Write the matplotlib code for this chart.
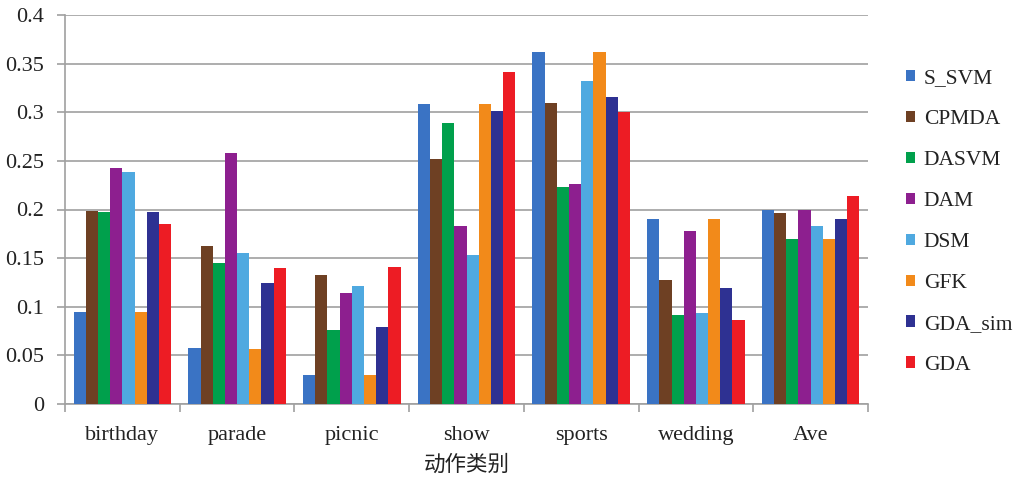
import numpy as np
import matplotlib
matplotlib.use("Agg")
import matplotlib.pyplot as plt
from matplotlib.ticker import FixedLocator, NullFormatter

categories = ["birthday", "parade", "picnic", "show", "sports", "wedding", "Ave"]
methods = ["S_SVM", "CPMDA", "DASVM", "DAM", "DSM", "GFK", "GDA_sim", "GDA"]

s_svm   = [0.095, 0.058, 0.030, 0.308, 0.362, 0.190, 0.200]
cpmda   = [0.198, 0.162, 0.133, 0.252, 0.310, 0.128, 0.196]
dasvm   = [0.197, 0.145, 0.076, 0.289, 0.223, 0.092, 0.170]
dam     = [0.243, 0.258, 0.114, 0.183, 0.226, 0.178, 0.200]
dsm     = [0.239, 0.155, 0.121, 0.153, 0.332, 0.094, 0.183]
gfk     = [0.095, 0.057, 0.030, 0.308, 0.362, 0.190, 0.170]
gda_sim = [0.197, 0.124, 0.079, 0.301, 0.316, 0.119, 0.190]
gda     = [0.185, 0.140, 0.141, 0.341, 0.300, 0.086, 0.214]

series = [s_svm, cpmda, dasvm, dam, dsm, gfk, gda_sim, gda]
colors = ["#3a73c4", "#6e4023", "#00a04c", "#8d1f8f",
          "#4fa9e0", "#f28a1a", "#2e3192", "#ed1c24"]

serif = ["Liberation Serif", "DejaVu Serif"]
plt.rcParams["font.family"] = serif

fig = plt.figure(figsize=(10.19, 4.79), dpi=100)
ax = fig.add_axes([65 / 1019, 1 - 404 / 479, (868 - 65) / 1019, (404 - 15) / 479])

x = np.arange(len(categories))
n = len(series)
group_w = 0.85
bw = group_w / n
for i, (vals, c, name) in enumerate(zip(series, colors, methods)):
    ax.bar(x - group_w / 2 + bw * (i + 0.5), vals, width=bw, color=c,
           label=name, zorder=3, linewidth=0)

ax.set_xlim(-0.5, len(categories) - 0.5)
ax.set_ylim(0, 0.4)
ax.set_yticks(np.arange(0, 0.401, 0.05))
ax.set_yticklabels(["0", "0.05", "0.1", "0.15", "0.2", "0.25", "0.3", "0.35", "0.4"])
ax.yaxis.grid(True, color="#a0a0a0", linewidth=1.2, zorder=0)

# category labels at group centres, tick marks between groups
ax.set_xticks(x)
ax.set_xticklabels(categories)
ax.tick_params(axis="x", which="major", length=0, pad=16)
ax.xaxis.set_minor_locator(FixedLocator(np.arange(-0.5, len(categories), 1.0)))
ax.xaxis.set_minor_formatter(NullFormatter())
ax.tick_params(axis="x", which="minor", length=6, color="#a0a0a0", width=1.2)
ax.tick_params(axis="y", length=6, color="#a0a0a0", width=1.2, pad=9)
ax.tick_params(labelsize=16, labelcolor="#222222")

for side in ("top", "right"):
    ax.spines[side].set_visible(False)
for side in ("left", "bottom"):
    ax.spines[side].set_color("#a0a0a0")
    ax.spines[side].set_linewidth(1.2)

ax.set_xlabel("动作类别", fontsize=15.5, family=["Noto Sans CJK SC", "DejaVu Sans"],
              color="#222222", labelpad=6)

fig.legend(loc="upper left", bbox_to_anchor=(906 / 1019, 1 - 69 / 479),
           frameon=False, fontsize=15.5, handlelength=0.42, handleheight=0.42,
           handletextpad=0.4, labelspacing=1.02, borderaxespad=0, borderpad=0,
           labelcolor="#222222")

fig.savefig("out.png", dpi=100)
